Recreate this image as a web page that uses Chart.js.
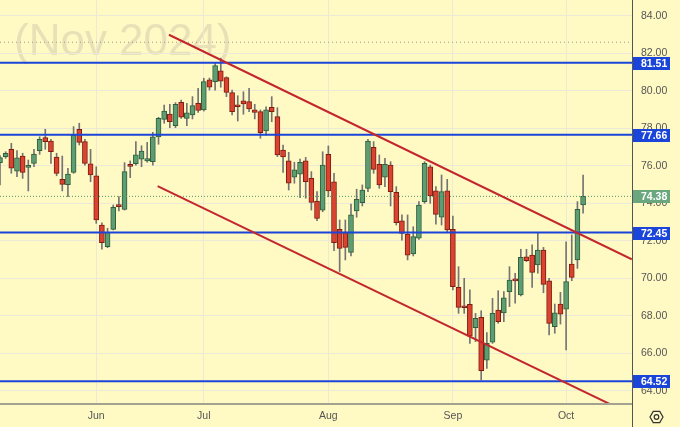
<!DOCTYPE html>
<html>
<head>
<meta charset="utf-8">
<script src="https://cdn.jsdelivr.net/npm/chart.js@4.4.1/dist/chart.umd.min.js"></script>
<style>
  html, body { margin: 0; padding: 0; background: #fff9c4; }
  #wrap { width: 680px; height: 427px; }
</style>
</head>
<body>
<div id="wrap"><canvas id="chart" width="680" height="427"></canvas></div>
<script>
// daily candles, index 0 = first visible session (mid May)
const opens = [
  76.18, 76.50, 76.89, 75.73, 76.53, 75.93, 76.14, 76.82, 77.51, 77.33,
  76.48, 75.29, 75.00, 75.66, 77.96, 77.30, 76.11, 75.48, 72.85, 71.70,
  72.62, 73.88, 73.69, 76.05, 76.12, 76.37, 76.27, 76.23, 77.55, 78.49,
  78.77, 78.15, 79.40, 78.54, 78.72, 79.34, 78.99, 80.59, 80.50, 81.07,
  80.71, 79.91, 79.25, 79.47, 79.43, 78.99, 78.90, 77.87, 79.13, 78.63,
  76.85, 76.27, 75.41, 75.56, 76.28, 75.34, 74.13, 73.65, 76.62, 75.16,
  72.62, 72.48, 71.39, 73.60, 74.04, 74.81, 77.00, 76.09, 75.40, 76.05,
  74.60, 73.08, 72.37, 71.31, 72.15, 74.10, 75.96, 74.68, 73.27, 74.68,
  72.62, 69.53, 68.50, 68.62, 67.38, 67.93, 65.65, 66.60, 68.32, 68.17,
  69.30, 69.97, 69.12, 71.16, 71.25, 70.72, 71.52, 69.87, 67.43, 68.64,
  68.36, 70.77, 70.99, 73.92
];
const highs = [
  76.55, 76.76, 77.21, 76.82, 76.68, 76.32, 76.89, 77.56, 77.96, 77.42,
  76.68, 76.53, 75.88, 78.10, 78.28, 77.42, 76.89, 75.96, 72.97, 72.68,
  73.92, 74.37, 76.18, 76.27, 77.30, 77.08, 77.26, 77.80, 78.60, 79.25,
  79.29, 79.38, 79.52, 79.34, 79.70, 80.14, 80.68, 80.69, 81.50, 81.75,
  80.76, 80.05, 79.75, 79.96, 80.14, 79.29, 78.99, 79.16, 79.70, 79.11,
  77.12, 76.73, 76.20, 76.37, 76.46, 75.70, 74.63, 76.76, 77.07, 75.61,
  73.12, 73.12, 73.97, 74.76, 74.99, 77.42, 77.30, 76.59, 76.41, 76.23,
  74.90, 73.39, 73.39, 72.76, 74.10, 76.23, 76.05, 74.90, 75.52, 75.29,
  73.33, 70.63, 70.01, 69.39, 68.14, 68.28, 67.11, 68.94, 69.35, 69.30,
  70.63, 70.28, 71.56, 71.56, 71.79, 72.44, 71.66, 70.01, 68.64, 69.26,
  71.96, 72.32, 74.10, 75.52
];
const lows = [
  74.99, 76.41, 75.61, 75.43, 75.34, 74.67, 75.96, 76.62, 76.89, 76.14,
  75.48, 74.67, 74.36, 75.61, 77.12, 76.05, 75.16, 72.94, 71.56, 71.64,
  72.59, 73.60, 73.65, 75.38, 76.05, 75.96, 76.20, 76.05, 77.16, 78.28,
  78.04, 78.04, 78.54, 78.15, 78.51, 78.86, 78.93, 80.05, 80.05, 80.20,
  79.70, 78.72, 78.40, 78.76, 78.90, 78.51, 77.48, 77.65, 78.36, 76.50,
  75.66, 74.72, 75.08, 74.31, 74.28, 73.65, 73.08, 73.56, 74.36, 71.48,
  70.37, 70.99, 71.20, 73.27, 73.87, 74.63, 75.61, 74.81, 74.90, 73.87,
  72.85, 72.05, 70.99, 71.20, 72.09, 74.01, 74.01, 72.90, 72.85, 72.44,
  69.39, 68.14, 68.14, 66.54, 66.63, 64.59, 65.21, 66.54, 67.61, 67.70,
  68.50, 68.68, 69.07, 70.90, 69.53, 70.28, 69.24, 66.99, 67.08, 67.57,
  66.19, 69.88, 70.54, 73.48
];
const closes = [
  76.45, 76.68, 75.88, 76.44, 75.66, 76.04, 76.64, 77.42, 77.30, 76.76,
  75.61, 75.02, 75.57, 77.65, 77.26, 76.14, 75.52, 73.12, 71.91, 72.46,
  73.80, 73.83, 75.70, 75.98, 76.59, 76.80, 76.39, 77.56, 78.54, 78.93,
  78.36, 79.29, 78.61, 78.84, 79.22, 78.97, 80.50, 80.20, 81.35, 80.53,
  79.93, 78.90, 79.16, 79.31, 79.04, 78.86, 77.78, 78.99, 78.90, 76.59,
  76.48, 75.08, 75.79, 76.20, 75.16, 74.06, 73.21, 76.05, 74.67, 71.91,
  71.61, 71.66, 73.39, 74.22, 74.72, 77.33, 75.82, 74.99, 76.09, 74.63,
  72.98, 72.41, 71.25, 72.23, 73.92, 76.14, 74.40, 73.42, 74.63, 72.59,
  69.56, 68.46, 68.44, 66.93, 67.88, 65.08, 66.54, 68.14, 67.70, 68.97,
  69.92, 69.87, 71.13, 70.95, 70.33, 71.52, 69.69, 67.61, 68.17, 68.10,
  69.83, 70.06, 73.69, 74.38
];

const monthTicks = [17, 36, 58, 80, 100];
const monthLabels = ["Jun", "Jul", "Aug", "Sep", "Oct"];
const priceTicks = [64, 66, 68, 70, 72, 74, 76, 78, 80, 82, 84];

const levels = [81.51, 77.66, 72.45, 64.52];
const lastPrice = 74.38;
const dottedLevel = 82.6;

const upperChannelX = [29.84, 111.6];
const upperChannelY = [83.00, 71.02];
const lowerChannelX = [27.84, 111.6];
const lowerChannelY = [74.93, 62.74];

const X_MIN = 0, X_MAX = 111.64;
const Y_MIN = 63.36, Y_MAX = 84.853;

const BG = "#fff9c4";
const GRID = "#ecead6";
const BLUE = "#1b45d8";
const RED_LINE = "#c3262d";
const UP_FILL = "#5e9d72", UP_EDGE = "#2e5f3e";
const DN_FILL = "#d9432f", DN_EDGE = "#7f1c12";
const LABEL_FONT = "Liberation Sans";

const isUp = i => closes[i] >= opens[i];

const bodies = opens.map((o, i) => ({ x: i, y: [o, closes[i]] }));
const wicks = lows.map((l, i) => ({ x: i, y: [l, highs[i]] }));

function hLine(v, color, width, dash) {
  return {
    type: "line",
    data: [{ x: X_MIN, y: v }, { x: X_MAX, y: v }],
    borderColor: color,
    borderWidth: width,
    borderDash: dash || [],
    pointRadius: 0,
    order: -1
  };
}

function segment(xs, ys) {
  return {
    type: "line",
    data: xs.map((x, i) => ({ x: x, y: ys[i] })),
    borderColor: RED_LINE,
    borderWidth: 2,
    pointRadius: 0,
    order: -2
  };
}

// the scales reserve half a label of padding at their ends; the reference uses none
function noPad(s) {
  s.paddingTop = 0;
  s.paddingBottom = 0;
  s.paddingLeft = 0;
  s.paddingRight = 0;
}

const decorations = {
  id: "decorations",
  beforeDraw(chart) {
    const ctx = chart.ctx;
    ctx.save();
    ctx.fillStyle = BG;
    ctx.fillRect(0, 0, chart.width, chart.height);
    // watermark
    ctx.font = '44px "' + LABEL_FONT + '"';
    ctx.fillStyle = "#e8e1b8";
    ctx.textBaseline = "alphabetic";
    ctx.fillText("(Nov 2024)", 14, 55);
    ctx.restore();
  },
  afterDraw(chart) {
    const ctx = chart.ctx;
    const a = chart.chartArea;
    const y = chart.scales.y;
    ctx.save();
    // time axis line
    ctx.strokeStyle = "#a3a190";
    ctx.lineWidth = 2;
    ctx.beginPath();
    ctx.moveTo(0, a.bottom + 1);
    ctx.lineTo(a.right, a.bottom + 1);
    ctx.stroke();
    // price axis line
    ctx.strokeStyle = "#555555";
    ctx.lineWidth = 1;
    ctx.beginPath();
    ctx.moveTo(a.right + 0.5, 0);
    ctx.lineTo(a.right + 0.5, chart.height);
    ctx.stroke();

    function box(v, color) {
      const py = Math.round(y.getPixelForValue(v));
      ctx.fillStyle = color;
      ctx.fillRect(a.right + 1, py - 6, 37, 13);
      ctx.fillStyle = "#ffffff";
      ctx.font = 'bold 10.5px "' + LABEL_FONT + '"';
      ctx.textBaseline = "middle";
      ctx.textAlign = "left";
      ctx.fillText(v.toFixed(2), a.right + 9, py + 1);
    }
    levels.forEach(v => box(v, BLUE));
    box(lastPrice, "#6aa77f");

    // settings icon
    const cx = 656.5, cy = 417, r = 6.5;
    ctx.strokeStyle = "#333333";
    ctx.lineWidth = 1.2;
    ctx.beginPath();
    for (let k = 0; k < 6; k++) {
      const ang = Math.PI / 3 * k;
      const px = cx + r * Math.cos(ang), py = cy + r * Math.sin(ang);
      if (k === 0) ctx.moveTo(px, py); else ctx.lineTo(px, py);
    }
    ctx.closePath();
    ctx.stroke();
    ctx.beginPath();
    ctx.arc(cx, cy, 2.3, 0, Math.PI * 2);
    ctx.stroke();
    ctx.restore();
  }
};

new Chart(document.getElementById("chart"), {
  type: "bar",
  data: {
    datasets: [
      {
        label: "body",
        data: bodies,
        backgroundColor: ctx => isUp(ctx.dataIndex) ? UP_FILL : DN_FILL,
        borderColor: ctx => isUp(ctx.dataIndex) ? UP_EDGE : DN_EDGE,
        borderWidth: 1,
        borderSkipped: false,
        barThickness: 5,
        minBarLength: 2,
        order: 0
      },
      {
        label: "wick",
        data: wicks,
        backgroundColor: "#747474",
        borderWidth: 0,
        barThickness: 1,
        order: 1
      },
      hLine(dottedLevel, "#9a9a90", 1, [1, 3]),
      hLine(lastPrice, "#4f9a6a", 1, [1, 2]),
      ...levels.map(v => hLine(v, BLUE, 2)),
      segment(upperChannelX, upperChannelY),
      segment(lowerChannelX, lowerChannelY)
    ]
  },
  options: {
    responsive: false,
    devicePixelRatio: 1,
    animation: false,
    grouped: false,
    layout: { padding: 0 },
    plugins: { legend: { display: false }, tooltip: { enabled: false } },
    scales: {
      x: {
        type: "linear",
        min: X_MIN,
        max: X_MAX,
        offset: false,
        grid: { color: GRID, drawTicks: false, offset: false },
        border: { display: false },
        ticks: {
          autoSkip: false,
          maxRotation: 0,
          padding: 7,
          color: "#555555",
          font: { family: LABEL_FONT, size: 10.5 },
          callback: v => {
            const k = monthTicks.indexOf(v);
            return k >= 0 ? monthLabels[k] : "";
          }
        },
        afterBuildTicks: s => { s.ticks = monthTicks.map(v => ({ value: v })); },
        afterFit: s => { s.height = 24; noPad(s); }
      },
      y: {
        position: "right",
        min: Y_MIN,
        max: Y_MAX,
        grid: { color: GRID, drawTicks: false },
        border: { display: false },
        ticks: {
          padding: 9,
          color: "#555555",
          font: { family: LABEL_FONT, size: 10.5 },
          callback: v => v.toFixed(2)
        },
        afterBuildTicks: s => { s.ticks = priceTicks.map(v => ({ value: v })); },
        afterFit: s => { s.width = 48; noPad(s); }
      }
    }
  },
  plugins: [decorations]
});
</script>
</body>
</html>
